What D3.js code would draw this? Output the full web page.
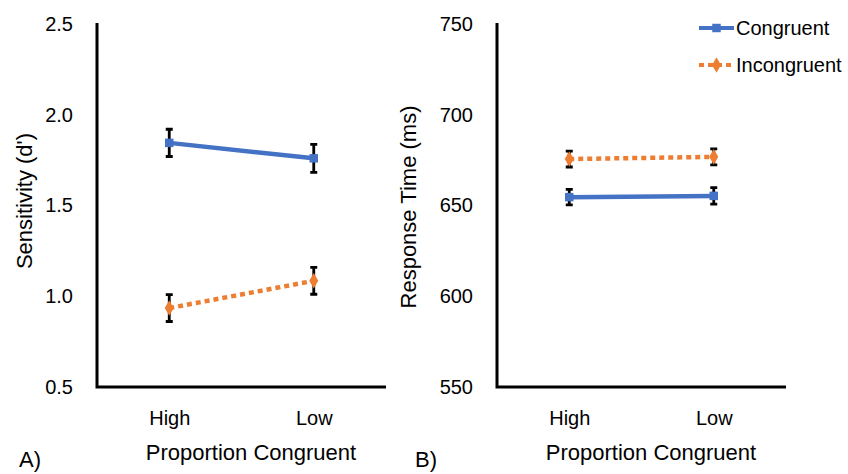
<!DOCTYPE html>
<html>
<head>
<meta charset="utf-8">
<script src="https://cdn.jsdelivr.net/npm/d3@7"></script>
<style>
  body { margin: 0; background: #fff; }
  text { font-family: "Liberation Sans", Arial, sans-serif; fill: #000; }
</style>
</head>
<body>
<div id="chart"></div>
<script>
// data
var categories = ["High", "Low"];
var seriesNames = ["Congruent", "Incongruent"];

var dprimeCongruent = [1.845, 1.76];
var dprimeIncongruent = [0.935, 1.085];
var dprimeErrCongruent = [0.075, 0.077];
var dprimeErrIncongruent = [0.074, 0.074];
var dprimeTicks = [0.5, 1.0, 1.5, 2.0, 2.5];

var rtCongruent = [654.6, 655.3];
var rtIncongruent = [675.6, 676.8];
var rtErrCongruent = [4.3, 4.5];
var rtErrIncongruent = [4.4, 4.4];
var rtTicks = [550, 600, 650, 700, 750];

var blue = "#4472C4";
var orange = "#ED7D31";

var svg = d3.select("#chart")
  .append("svg")
  .attr("width", 848)
  .attr("height", 474);

function markerPath(type) {
  return type === "square"
    ? d3.symbol().type(d3.symbolSquare).size(72)()
    : d3.symbol().type(d3.symbolDiamond).size(70)();
}

function drawPanel(opts) {
  var g = svg.append("g")
    .attr("transform", `translate(${opts.left}, 0)`);

  var top = 24, bottom = 387, axisLeft = 97, axisRight = 386;

  var x = d3.scalePoint()
    .domain(categories)
    .range([axisLeft, axisRight])
    .padding(0.5);

  var y = d3.scaleLinear()
    .domain(opts.domain)
    .range([bottom, top]);

  // y axis
  var yAxis = g.append("g")
    .attr("transform", `translate(${axisLeft}, 0)`)
    .call(d3.axisLeft(y).tickValues(opts.ticks).tickSize(0).tickPadding(24).tickFormat(opts.fmt));
  yAxis.select(".domain").remove();
  yAxis.selectAll("text").style("font-size", "20px").attr("font-family", null);

  // x axis
  var xAxis = g.append("g")
    .attr("transform", `translate(0, ${bottom})`)
    .call(d3.axisBottom(x).tickSize(0).tickPadding(24));
  xAxis.select(".domain").remove();
  xAxis.selectAll("text").style("font-size", "20px").attr("font-family", null);

  // axis lines
  g.append("path")
    .attr("d", `M${axisLeft},${top - 1}V${bottom}H${axisRight}`)
    .attr("fill", "none")
    .attr("stroke", "#000")
    .attr("stroke-width", 3);

  var series = [
    { name: seriesNames[0], vals: opts.cong, errs: opts.congErr, color: blue, dash: null, marker: "square" },
    { name: seriesNames[1], vals: opts.incong, errs: opts.incongErr, color: orange, dash: "5,4", marker: "diamond" }
  ];

  var line = d3.line()
    .x((d, i) => x(categories[i]))
    .y(d => y(d));

  series.forEach(function(s) {
    g.append("path")
      .datum(s.vals)
      .attr("d", line)
      .attr("fill", "none")
      .attr("stroke", s.color)
      .attr("stroke-width", 4.5)
      .attr("stroke-dasharray", s.dash);

    // error bars
    var eb = g.append("g");
    s.vals.forEach(function(v, i) {
      var cx = x(categories[i]);
      var y0 = y(v - s.errs[i]), y1 = y(v + s.errs[i]);
      eb.append("path")
        .attr("d", `M${cx},${y0}V${y1}M${cx - 3.5},${y0}H${cx + 3.5}M${cx - 3.5},${y1}H${cx + 3.5}`)
        .attr("stroke", "#000")
        .attr("stroke-width", 2.8)
        .attr("fill", "none");
    });

    g.selectAll(null)
      .data(s.vals)
      .enter()
      .append("path")
      .attr("d", markerPath(s.marker))
      .attr("transform", (d, i) => `translate(${x(categories[i])}, ${y(d)})`)
      .attr("fill", s.color);
  });

  // y label
  g.append("text")
    .attr("transform", `translate(${opts.ylabelX}, ${opts.ylabelY}) rotate(-90)`)
    .attr("text-anchor", "middle")
    .style("font-size", "22px")
    .text(opts.ylabel);

  // x label
  g.append("text")
    .attr("x", 251)
    .attr("y", 460)
    .attr("text-anchor", "middle")
    .style("font-size", "22px")
    .text("Proportion Congruent");

  // panel letter
  g.append("text")
    .attr("x", opts.letterX)
    .attr("y", 467)
    .style("font-size", "22px")
    .text(opts.letter);

  return { g: g, series: series };
}

drawPanel({
  left: 0, domain: [0.5, 2.5], ticks: dprimeTicks, fmt: d3.format(".1f"),
  cong: dprimeCongruent, incong: dprimeIncongruent,
  congErr: dprimeErrCongruent, incongErr: dprimeErrIncongruent,
  ylabel: "Sensitivity (d')", ylabelX: 32, ylabelY: 201, letter: "A)", letterX: 19
});

var panelB = drawPanel({
  left: 400, domain: [550, 750], ticks: rtTicks, fmt: d3.format("d"),
  cong: rtCongruent, incong: rtIncongruent,
  congErr: rtErrCongruent, incongErr: rtErrIncongruent,
  ylabel: "Response Time (ms)", ylabelX: 16, ylabelY: 207, letter: "B)", letterX: 15
});

// legend
var legend = svg.append("g").attr("transform", "translate(699, 28)");
panelB.series.forEach(function(s, i) {
  var row = legend.append("g").attr("transform", `translate(0, ${i * 37})`);
  row.append("line")
    .attr("x1", 0).attr("x2", 35)
    .attr("stroke", s.color)
    .attr("stroke-width", 4)
    .attr("stroke-dasharray", s.dash);
  row.append("path")
    .attr("d", markerPath(s.marker))
    .attr("transform", "translate(17.5, 0)")
    .attr("fill", s.color);
  row.append("text")
    .attr("x", 37)
    .attr("dy", "0.36em")
    .style("font-size", "20px")
    .text(s.name);
});
</script>
</body>
</html>
